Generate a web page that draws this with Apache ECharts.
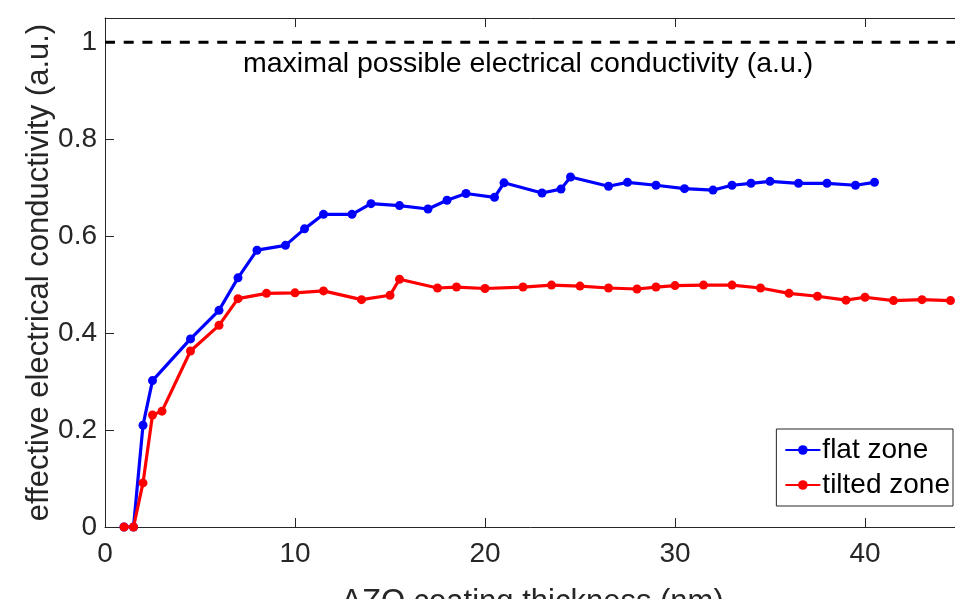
<!DOCTYPE html>
<html>
<head>
<meta charset="utf-8">
<script src="https://cdn.jsdelivr.net/npm/echarts@6/dist/echarts.min.js"></script>
<style>
  html, body { margin: 0; padding: 0; background: #fff; }
  #chart { width: 955px; height: 599px; }
</style>
</head>
<body>
<div id="chart"></div>
<script>
// 数据
var flatX = [1, 1.5, 2, 2.5, 4.5, 6, 7, 8, 9.5, 10.5, 11.5, 13, 14, 15.5, 17, 18, 19, 20.5, 21, 23, 24, 24.5, 26.5, 27.5, 29, 30.5, 32, 33, 34, 35, 36.5, 38, 39.5, 40.5];
var flatY = [0, 0, 0.21, 0.302, 0.388, 0.447, 0.514, 0.571, 0.581, 0.615, 0.645, 0.645, 0.667, 0.663, 0.656, 0.674, 0.688, 0.68, 0.71, 0.689, 0.697, 0.722, 0.703, 0.711, 0.705, 0.698, 0.695, 0.705, 0.709, 0.713, 0.709, 0.709, 0.705, 0.711];
var tiltX = [1, 1.5, 2, 2.5, 3, 4.5, 6, 7, 8.5, 10, 11.5, 13.5, 15, 15.5, 17.5, 18.5, 20, 22, 23.5, 25, 26.5, 28, 29, 30, 31.5, 33, 34.5, 36, 37.5, 39, 40, 41.5, 43, 44.5];
var tiltY = [0, 0, 0.091, 0.231, 0.239, 0.363, 0.416, 0.471, 0.482, 0.483, 0.487, 0.469, 0.478, 0.511, 0.493, 0.495, 0.492, 0.495, 0.499, 0.497, 0.493, 0.491, 0.495, 0.498, 0.499, 0.499, 0.493, 0.482, 0.476, 0.468, 0.474, 0.467, 0.469, 0.467];
var maxLevel = 1;
var seriesNames = ["flat zone", "tilted zone"];
var maxText = "maximal possible electrical conductivity (a.u.)";

function pairs(xs, ys) {
  return xs.map(function (x, i) { return [x, ys[i]]; });
}

var axisColor = "#262626";
var font = "Liberation Sans, Arial, sans-serif";

var chart = echarts.init(document.getElementById("chart"));
var option = {
  animation: false,
  grid: { left: 105, right: -5, top: 18, bottom: 72, containLabel: false, outerBoundsMode: "none" },
  legend: {
    right: 2,
    top: 429,
    orient: "vertical",
    backgroundColor: "#fff",
    borderColor: "#262626",
    borderWidth: 1,
    borderRadius: 0,
    padding: [7, 3, 7, 8],
    itemGap: 7,
    itemWidth: 35,
    itemHeight: 12,
    textStyle: { fontFamily: font, fontSize: 28, color: "#000", padding: [0, 0, 0, -3] },
    data: seriesNames,
  },
  xAxis: [
    {
      type: "value",
      min: 0,
      max: 45,
      interval: 10,
      name: "AZO coating thickness (nm)",
      nameLocation: "middle",
      nameGap: 60,
      nameTextStyle: { fontFamily: font, fontSize: 31, color: axisColor },
      axisLine: { lineStyle: { color: axisColor, width: 1 } },
      axisTick: { inside: true, length: 9, lineStyle: { color: axisColor } },
      axisLabel: { fontFamily: font, fontSize: 28, color: axisColor, margin: 13, showMaxLabel: false },
      splitLine: { show: false },
    },
    {
      type: "value",
      position: "top",
      min: 0,
      max: 45,
      interval: 10,
      axisLine: { show: true, lineStyle: { color: axisColor, width: 1 } },
      axisTick: { show: true, inside: true, length: 9, lineStyle: { color: axisColor } },
      axisLabel: { show: false },
      splitLine: { show: false },
    },
  ],
  yAxis: {
    type: "value",
    min: 0,
    max: 1.05,
    interval: 0.2,
    name: "effective electrical conductivity (a.u.)",
    nameLocation: "middle",
    nameGap: 50,
    nameMoveOverlap: false,
    nameTextStyle: { fontFamily: font, fontSize: 31, color: axisColor },
    axisLine: { show: true, lineStyle: { color: axisColor, width: 1 } },
    axisTick: { inside: true, length: 9, lineStyle: { color: axisColor } },
    axisLabel: {
      fontFamily: font,
      fontSize: 28,
      color: axisColor,
      margin: 8,
      showMaxLabel: false,
      formatter: function (v) { return String(Math.round(v * 10) / 10); },
    },
    splitLine: { show: false },
  },
  series: [
    {
      name: seriesNames[0],
      type: "line",
      data: pairs(flatX, flatY),
      color: "#0000ff",
      symbol: "circle",
      symbolSize: 9,
      lineStyle: { width: 3.2 },
      z: 3,
    },
    {
      name: seriesNames[1],
      type: "line",
      data: pairs(tiltX, tiltY),
      color: "#ff0000",
      symbol: "circle",
      symbolSize: 9,
      lineStyle: { width: 3.2 },
      z: 4,
    },
    {
      name: "max",
      type: "line",
      data: [[0, maxLevel], [45, maxLevel]],
      color: "#000",
      symbol: "none",
      lineStyle: { width: 3, type: [10, 8.7] },
      z: 2,
    },
  ],
  graphic: [
    {
      type: "text",
      left: 243,
      top: 50,
      style: { text: maxText, fontFamily: font, fontSize: 28.5, fill: "#000" },
    },
  ],
};
chart.setOption(option);
</script>
</body>
</html>
